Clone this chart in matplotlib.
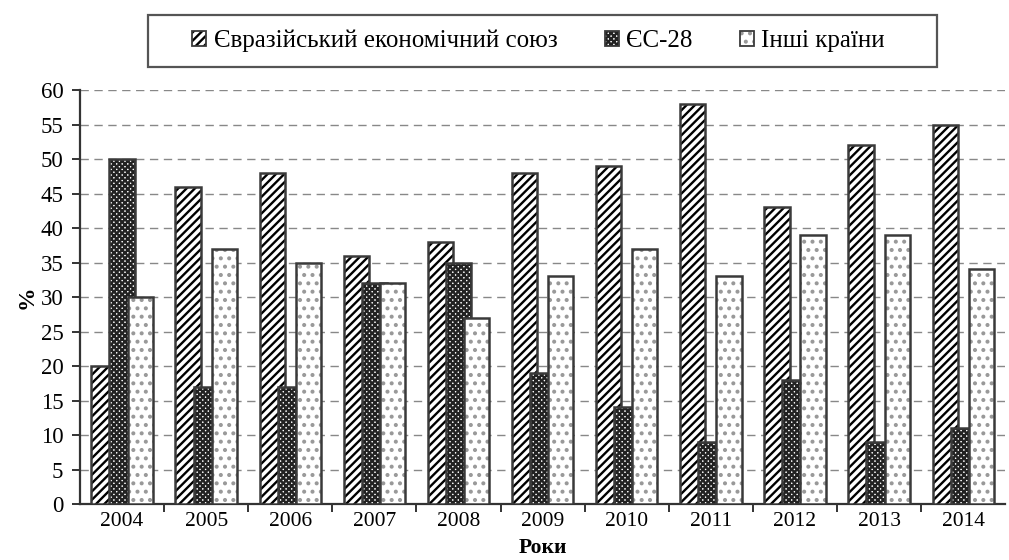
import matplotlib
matplotlib.use("Agg")
import matplotlib.pyplot as plt
import numpy as np
from matplotlib.patches import Patch, Rectangle
from matplotlib.legend_handler import HandlerTuple

years = ["2004", "2005", "2006", "2007", "2008", "2009", "2010", "2011", "2012", "2013", "2014"]
eaeu = [20, 46, 48, 36, 38, 48, 49, 58, 43, 52, 55]
eu28 = [50, 17, 17, 32, 35, 19, 14, 9, 18, 9, 11]
others = [30, 37, 35, 32, 27, 33, 37, 33, 39, 39, 34]
series_names = ["Євразійський економічний союз", "ЄС-28", "Інші країни"]

plt.rcParams['font.family'] = ['Liberation Serif', 'DejaVu Serif']
plt.rcParams['hatch.linewidth'] = 1.7

fig = plt.figure(figsize=(10.09, 5.6), dpi=100)
ax = fig.add_axes([0.0793, 0.1, 0.917, 0.739])

x = np.arange(len(years))
width = 0.30
offset = 0.215
edge = "#3a3a3a"

specs = [
    (eaeu, -offset, "////", "black"),
    (eu28, 0.0, "xxxxxx", "#222222"),
    (others, offset, "..", "#999999"),
]
handles = []
for vals, off, hatch, hcol in specs:
    ax.bar(x + off, vals, width, color="white", edgecolor=hcol, hatch=hatch,
           linewidth=0, zorder=3)
    ax.bar(x + off, vals, width, fill=False, edgecolor=edge, linewidth=1.8, zorder=3)
    h1 = Patch(facecolor="white", edgecolor=hcol, hatch=hatch, linewidth=0)
    h2 = Patch(fill=False, edgecolor=edge, linewidth=1.3)
    handles.append((h1, h2))

ax.set_ylim(0, 60)
ax.set_xlim(-0.5, len(years) - 0.5)
ax.set_yticks(np.arange(0, 61, 5))
ax.yaxis.grid(True, linestyle=(0, (6, 4)), color="#888888", linewidth=1.0, zorder=0)
ax.set_axisbelow(True)

ax.set_xticks(np.arange(0.5, len(years) - 0.5, 1.0))
ax.set_xticklabels([])
ax.set_xticks(x, minor=True)
ax.set_xticklabels(years, minor=True, fontsize=15.5)
ax.tick_params(axis="x", which="minor", length=0, pad=6)
ax.tick_params(axis="x", which="major", length=6, width=1.4, color="#333333", direction="out")
ax.tick_params(axis="y", length=6, width=1.4, color="#333333", labelsize=16.5, pad=6)

for s in ["top", "right"]:
    ax.spines[s].set_visible(False)
for s in ["left", "bottom"]:
    ax.spines[s].set_color("#333333")
    ax.spines[s].set_linewidth(1.6)

ax.set_ylabel("%", fontsize=17, fontweight="bold", labelpad=2)
fig.text(0.5377, 0.021, "Роки", fontsize=15.5, fontweight="bold", ha="center", va="center")

# legend frame
fig.patches.append(Rectangle((148 / 1009, 1 - 67 / 560), (937 - 148) / 1009, 52 / 560,
                             transform=fig.transFigure, fill=False, edgecolor="#555555",
                             linewidth=1.6, zorder=1))
leg = fig.legend(handles, series_names, loc="center", bbox_to_anchor=(0.5337, 0.927),
                 ncol=3, fontsize=18, frameon=False,
                 handlelength=0.55, handleheight=0.55, handletextpad=0.3,
                 columnspacing=1.9, borderpad=0.2,
                 handler_map={tuple: HandlerTuple(ndivide=1)})

fig.savefig("out.png", dpi=100)
